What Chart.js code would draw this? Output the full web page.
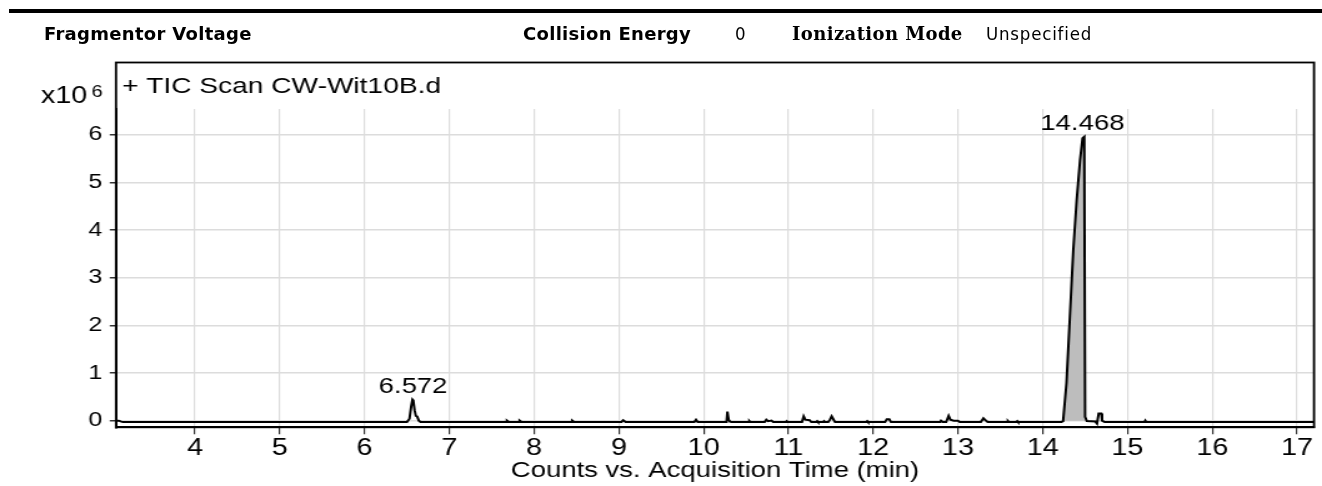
<!DOCTYPE html>
<html>
<head>
<meta charset="utf-8">
<script src="https://cdn.jsdelivr.net/npm/chart.js@4.4.1/dist/chart.umd.min.js"></script>
<style>
  body { margin: 0; background: #fff; width: 1322px; height: 486px; overflow: hidden; position: relative; }
  #rule { position: absolute; left: 9px; top: 9px; width: 1313px; height: 4px; background: #000; }
  .hd { position: absolute; top: 25px; font-size: 18px; line-height: 18px; white-space: nowrap; color: #000; z-index: 2; }
  .b { font-family: "DejaVu Sans"; font-weight: bold; letter-spacing: 0.3px; }
  .s { font-family: "DejaVu Serif"; font-weight: bold; letter-spacing: 0.4px; }
  .c { font-family: "DejaVu Sans"; font-stretch: condensed; font-size: 18.5px; letter-spacing: 0.8px; }
  #wrap { position: absolute; left: 0; top: 0; width: 1058px; height: 486px; transform: scaleX(1.24953); transform-origin: 0 0; }
</style>
</head>
<body>
<div id="wrap"><canvas id="chart" width="1058" height="486"></canvas></div>
<div id="rule"></div>
<div class="hd b" style="left:44px">Fragmentor Voltage</div>
<div class="hd b" style="left:523px">Collision Energy</div>
<div class="hd c" style="left:735px">0</div>
<div class="hd s" style="left:792px">Ionization Mode</div>
<div class="hd c" style="left:986px">Unspecified</div>

<script>
// TIC trace, counts in x10^6
var times = [
  3.07, 3.10, 3.13, 3.15,
  6.50, 6.53, 6.55, 6.565, 6.575, 6.59, 6.605, 6.62, 6.64, 6.66,
  7.67, 7.68, 7.70,
  7.82, 7.83, 7.85,
  8.44, 8.45, 8.47,
  9.03, 9.05, 9.08,
  9.89, 9.91, 9.93,
  10.27, 10.28, 10.295, 10.31, 10.33,
  10.53, 10.54, 10.55,
  10.72, 10.74, 10.76, 10.80, 10.82,
  10.97, 10.98, 10.99,
  11.16, 11.18, 11.20, 11.25, 11.27,
  11.33, 11.34, 11.35, 11.41, 11.42, 11.43,
  11.47, 11.49, 11.51, 11.53, 11.55,
  11.92, 11.93, 11.94,
  12.14, 12.16, 12.19, 12.21,
  12.79, 12.80, 12.82,
  12.86, 12.89, 12.91, 12.95, 13.00, 13.02,
  13.27, 13.30, 13.33, 13.35,
  13.58, 13.59, 13.60, 13.69, 13.70, 13.71,
  14.22, 14.24, 14.28, 14.32, 14.36, 14.40, 14.44, 14.47, 14.49, 14.50, 14.52,
  14.62, 14.64, 14.66, 14.69, 14.70, 14.73,
  15.20, 15.21, 15.22,
  17.21
];
var counts = [
  0.0, 0.0, -0.02, -0.03,
  -0.03, 0.04, 0.30, 0.44, 0.42, 0.22, 0.10, 0.09, 0.0, -0.03,
  -0.03, 0.0, -0.03,
  -0.03, 0.0, -0.03,
  -0.03, 0.0, -0.03,
  -0.03, 0.01, -0.03,
  -0.03, 0.02, -0.03,
  -0.03, 0.19, 0.02, -0.02, -0.03,
  -0.03, -0.01, -0.03,
  -0.03, 0.02, -0.01, 0.0, -0.03,
  -0.03, -0.01, -0.03,
  -0.03, 0.09, 0.02, 0.01, -0.03,
  -0.03, -0.01, -0.03, -0.03, -0.01, -0.03,
  -0.03, 0.02, 0.09, 0.03, -0.03,
  -0.03, -0.01, -0.03,
  -0.03, 0.03, 0.03, -0.03,
  -0.03, 0.0, -0.03,
  -0.03, 0.10, 0.02, 0.0, 0.0, -0.03,
  -0.03, 0.05, 0.0, -0.03,
  -0.03, -0.01, -0.03, -0.03, -0.01, -0.03,
  -0.03, -0.01, 0.79, 2.18, 3.58, 4.63, 5.47, 5.93, 5.96, 0.08, -0.01,
  -0.02, -0.06, 0.15, 0.15, 0.0, -0.03,
  -0.03, 0.0, -0.03,
  -0.03
];

// integrated peak (grey area)
var peakTimes = [14.24, 14.28, 14.32, 14.36, 14.40, 14.44, 14.47, 14.49, 14.50, 14.51];
var peakCounts = [0.0, 0.79, 2.18, 3.58, 4.63, 5.47, 5.93, 5.96, 0.08, 0.0];

// peak labels
var labelTimes = [6.572, 14.468];
var labelTops = [0.44, 5.96];
var labelTexts = ['6.572', '14.468'];

var xTicks = [4, 5, 6, 7, 8, 9, 10, 11, 12, 13, 14, 15, 16, 17];
var yTicks = [0, 1, 2, 3, 4, 5, 6];

var traceTitle = '+ TIC Scan CW-Wit10B.d';
var xTitle = 'Counts vs. Acquisition Time (min)';

var S = 1322 / 1058;   // canvas is stretched horizontally by css
function px(v) { return v / S; }
var FONT = '"Liberation Sans", Arial, sans-serif';

function pts(xs, ys) {
  var out = [];
  for (var i = 0; i < xs.length; i++) out.push({x: xs[i], y: ys[i]});
  return out;
}

var extras = {
  id: 'extras',
  afterDraw: function(chart) {
    var ctx = chart.ctx, a = chart.chartArea;
    var xs = chart.scales.x, ys = chart.scales.y;
    ctx.save();
    ctx.strokeStyle = '#000';
    ctx.lineWidth = 1.8;
    ctx.strokeRect(a.left, 62.5, a.right - a.left, a.bottom - 62.5);
    ctx.fillStyle = '#000';
    ctx.textBaseline = 'alphabetic';
    ctx.textAlign = 'left';
    ctx.font = '22.5px ' + FONT;
    ctx.fillText(traceTitle, px(122), 92.5);
    ctx.font = '23px ' + FONT;
    ctx.fillText('x10', px(41), 103);
    ctx.font = '16px ' + FONT;
    ctx.fillText('6', px(91.5), 96.7);
    ctx.font = '22px ' + FONT;
    ctx.textAlign = 'center';
    for (var i = 0; i < labelTexts.length; i++) {
      ctx.fillText(labelTexts[i], xs.getPixelForValue(labelTimes[i]), ys.getPixelForValue(labelTops[i]) - 7);
    }
    ctx.restore();
  }
};

new Chart(document.getElementById('chart'), {
  type: 'line',
  data: {
    datasets: [{
      data: pts(times, counts),
      borderColor: '#000',
      borderWidth: 2,
      pointRadius: 0,
      tension: 0,
      fill: false
    }, {
      data: pts(peakTimes, peakCounts),
      borderWidth: 0,
      borderColor: 'rgba(0,0,0,0)',
      backgroundColor: '#bdbdbd',
      pointRadius: 0,
      tension: 0,
      fill: {value: 0}
    }]
  },
  options: {
    responsive: false,
    animation: false,
    devicePixelRatio: 1,
    events: [],
    layout: { padding: { left: 0, right: 1058 - px(1314), top: 109, bottom: 0 } },
    plugins: { legend: { display: false }, tooltip: { enabled: false } },
    scales: {
      x: {
        type: 'linear',
        min: 3.068,
        max: 17.2,
        afterBuildTicks: function(s) { s.ticks = xTicks.map(function(v) { return {value: v}; }); },
        afterFit: function(s) { s.height = 58.7; },
        grid: { color: '#dcdcdc', lineWidth: 1.2, tickColor: '#333', tickLength: 7 },
        border: { color: '#000', width: 2 },
        ticks: { color: '#000', font: { family: FONT, size: 23 }, padding: 1, maxRotation: 0, autoSkip: false },
        title: { display: true, text: xTitle, color: '#000', font: { family: FONT, size: 22 }, padding: { top: 0, bottom: 2 } }
      },
      y: {
        type: 'linear',
        min: -0.14,
        max: 6.545,
        afterBuildTicks: function(s) { s.ticks = yTicks.map(function(v) { return {value: v}; }); },
        afterFit: function(s) { s.width = px(116); },
        grid: { color: '#dcdcdc', lineWidth: 1.5, tickColor: '#333', tickLength: 5 },
        border: { color: '#000', width: 2 },
        ticks: { color: '#000', font: { family: FONT, size: 20 }, padding: 6 }
      }
    }
  },
  plugins: [extras]
});
</script>
</body>
</html>
